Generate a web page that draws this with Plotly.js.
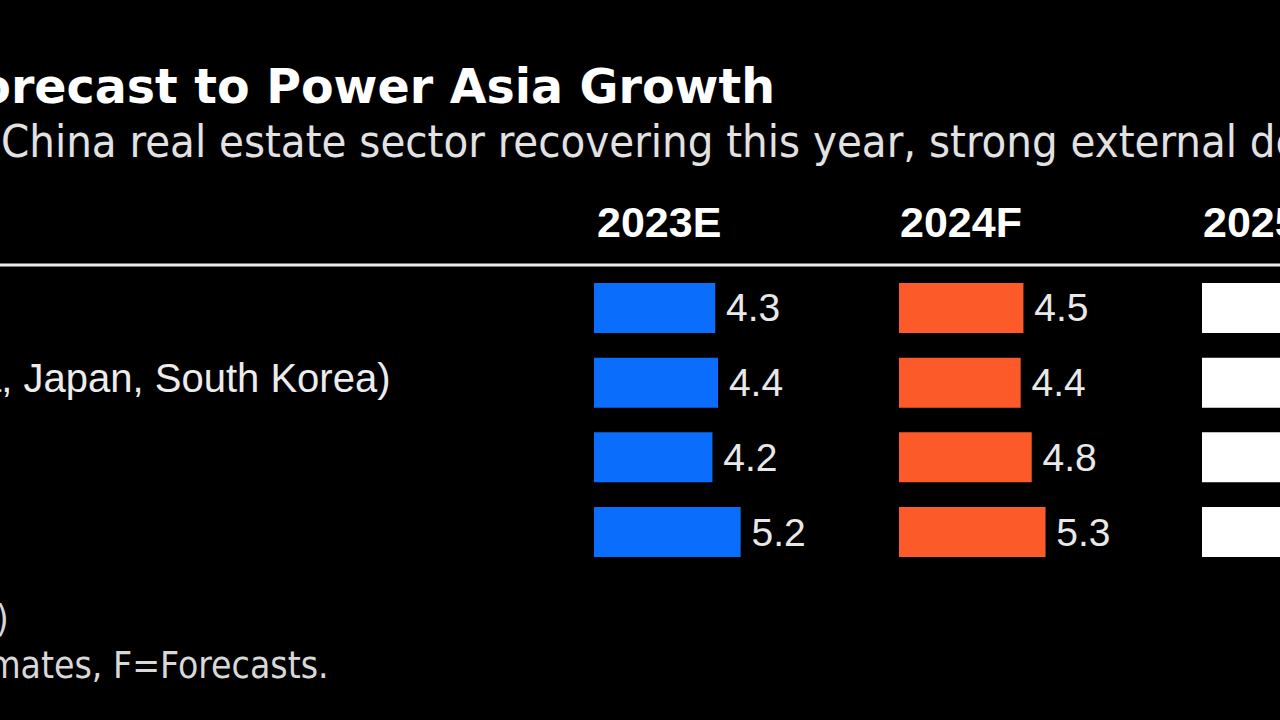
<!DOCTYPE html>
<html>
<head>
<meta charset="utf-8">
<script src="https://cdn.plot.ly/plotly-3.0.1.min.js"></script>
<style>
  html, body { margin: 0; padding: 0; background: #000; overflow: hidden; }
  #chart { width: 1280px; height: 720px; }
</style>
</head>
<body>
<div id="chart"></div>
<script>
// ---- data ----
const regions = ['ASEAN+3', 'Plus-3 (China, Japan, South Korea)', 'ASEAN', 'China'];
const est2023 = [4.3, 4.4, 4.2, 5.2];
const fc2024 = [4.5, 4.4, 4.8, 5.3];
const fc2025 = [4.4, 4.3, 4.7, 5.0]; // largely cropped out of view in the reference; estimated
const columnHeaders = ['2023E', '2024F', '2025F'];
const titleText = 'Forecast to Power Asia Growth';
const subtitleText = 'China real estate sector recovering this year, strong external demand';
const sourceText = 'Source: ASEAN+3 Macroeconomic Research Office (AMRO)';
const noteText = 'Note: E=Estimates, F=Forecasts.';

// ---- layout helpers (pixel -> paper) ----
const W = 1280, H = 720;
const px = v => v / W;
const py = v => 1 - v / H;

const valueFont = { family: 'Liberation Sans, Arial, sans-serif', size: 39, color: '#e8e8e8' };
const labelFont = { family: 'Liberation Sans, Arial, sans-serif', size: 40, color: '#ececec' };
const headerFont = { family: 'Liberation Sans, Arial, sans-serif', size: 43, color: '#ffffff', weight: 700 };
const condFont = { family: 'DejaVu Sans Condensed, DejaVu Sans, sans-serif', size: 45, color: '#e2e2e2' };
const footFont = { family: 'DejaVu Sans Condensed, DejaVu Sans, sans-serif', size: 37, color: '#d8d8d8' };

function barTrace(values, xaxis, color, showText) {
  return {
    type: 'bar', orientation: 'h',
    y: regions, x: values,
    xaxis: xaxis, yaxis: 'y',
    marker: { color: color, line: { width: 0 } },
    texttemplate: showText ? '\u2009%{x:.1f}' : '',
    textposition: showText ? 'outside' : 'none',
    textfont: valueFont,
    constraintext: 'none',
    cliponaxis: !showText,
    hoverinfo: 'skip',
    showlegend: false
  };
}

const data = [
  barTrace(est2023, 'x', '#0b6dfb', true),
  barTrace(fc2024, 'x2', '#fc5b29', true),
  barTrace(fc2025, 'x3', '#ffffff', false)
];

const hidden = { visible: false, fixedrange: true };

const annotations = [];
// column headers
[596, 899, 1202].forEach((x, i) => annotations.push({
  xref: 'paper', yref: 'paper', x: px(x - 1), y: py(222),
  xanchor: 'left', yanchor: 'middle', showarrow: false,
  text: columnHeaders[i], font: headerFont
}));
// row labels (left-aligned, mostly cropped in the reference)
regions.forEach(r => annotations.push({
  xref: 'paper', yref: 'y', x: px(-243), y: r,
  xanchor: 'left', yanchor: 'middle', showarrow: false,
  text: r, font: labelFont, yshift: 5
}));
// subtitle
annotations.push({
  xref: 'paper', yref: 'paper', x: px(-1), y: py(142),
  xanchor: 'left', yanchor: 'middle', showarrow: false,
  text: subtitleText, font: condFont
});
// footer
annotations.push({
  xref: 'paper', yref: 'paper', x: px(11), y: py(619),
  xanchor: 'right', yanchor: 'middle', showarrow: false,
  text: sourceText, font: footFont
});
annotations.push({
  xref: 'paper', yref: 'paper', x: px(331), y: py(665),
  xanchor: 'right', yanchor: 'middle', showarrow: false,
  text: noteText, font: footFont
});

const layout = {
  width: W, height: H,
  margin: { l: 0, r: 0, t: 0, b: 0, pad: 0 },
  paper_bgcolor: '#000000', plot_bgcolor: '#000000',
  barmode: 'overlay', bargap: 0.33,
  title: {
    text: titleText,
    xref: 'container', yref: 'container',
    x: px(775), xanchor: 'right',
    y: py(86), yanchor: 'middle',
    pad: { t: 0, b: 0, l: 0, r: 0 },
    font: { family: 'DejaVu Sans, Verdana, sans-serif', size: 47.5, color: '#ffffff', weight: 700 }
  },
  xaxis: Object.assign({ domain: [px(594), px(864)], range: [0, 270 / 28.2] }, hidden),
  xaxis2: Object.assign({ domain: [px(899), px(1149)], range: [0, 250 / 27.65] }, hidden),
  xaxis3: Object.assign({ domain: [px(1202), 1], range: [0, 78 / 27.65] }, hidden),
  yaxis: Object.assign({
    domain: [py(569.4), py(270.6)], type: 'category',
    categoryorder: 'array', categoryarray: regions, range: [3.5, -0.5]
  }, hidden),
  shapes: [{
    type: 'line', xref: 'paper', yref: 'paper',
    x0: 0, x1: 1, y0: py(265), y1: py(265),
    line: { color: '#ededed', width: 3 }
  }],
  annotations: annotations
};

Plotly.newPlot('chart', data, layout, { displayModeBar: false, staticPlot: true });
</script>
</body>
</html>
